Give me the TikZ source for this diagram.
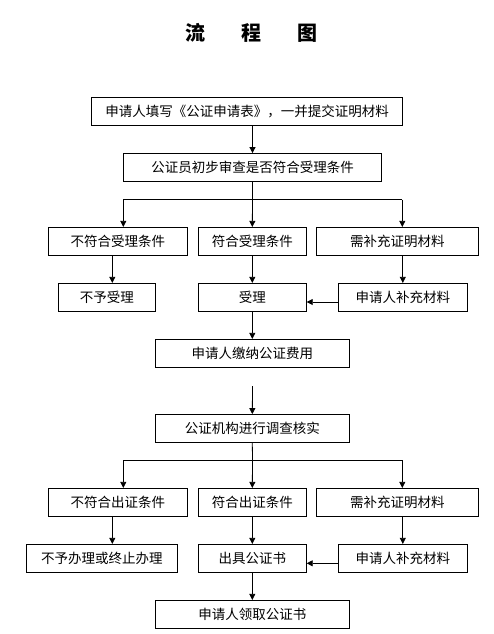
\documentclass[tikz,border=0pt]{standalone}
\usepackage{fontspec}
\usetikzlibrary{positioning,arrows.meta}
\newfontfamily\cjk{Noto Sans CJK SC}
\tikzset{
  stepbox/.style={draw,line width=0.8pt,minimum height=28pt,inner sep=0pt,
    font=\cjk\fontsize{13.5pt}{14pt}\selectfont},
  arr/.style={line width=0.8pt,-{Triangle[width=6pt,length=6pt]}},
  ln/.style={line width=0.8pt}
}
\begin{document}
\begin{tikzpicture}[x=1pt,y=-1pt]
  \useasboundingbox (0,0) rectangle (493,634);
  \node[font=\cjk\bfseries\fontsize{20pt}{22pt}\selectfont] (title) at (251,33)
    {流\hspace{36pt}程\hspace{36pt}图};

  % acceptance stage
  \node[stepbox,minimum width=311pt] (apply) at (247,111.5)
    {申请人填写《公证申请表》，一并提交证明材料};
  \node[stepbox,minimum width=258pt] (check) at (252.5,167.5)
    {公证员初步审查是否符合受理条件};
  \node[stepbox,minimum width=139pt] (notok) at (117.8,241.3) {不符合受理条件};
  \node[stepbox,minimum width=108pt] (ok) at (252.3,241.3) {符合受理条件};
  \node[stepbox,minimum width=162pt] (more) at (397.3,241.3) {需补充证明材料};
  \node[stepbox,minimum width=97pt] (refuse) at (106.8,297.3) {不予受理};
  \node[stepbox,minimum width=108pt] (accept) at (252.3,297.3) {受理};
  \node[stepbox,minimum width=129pt] (addmat) at (402.8,297.3) {申请人补充材料};
  \node[stepbox,minimum width=194pt] (fee) at (252.3,353.3) {申请人缴纳公证费用};

  % verification stage
  \node[stepbox,minimum width=194pt] (verify) at (252.3,428.5) {公证机构进行调查核实};
  \node[stepbox,minimum width=139pt] (notok2) at (117.8,502.3) {不符合出证条件};
  \node[stepbox,minimum width=108pt] (ok2) at (252.3,502.3) {符合出证条件};
  \node[stepbox,minimum width=162pt] (more2) at (397.3,502.3) {需补充证明材料};
  \node[stepbox,minimum width=151pt] (stop) at (101.8,558.3) {不予办理或终止办理};
  \node[stepbox,minimum width=108pt] (issue) at (252.3,558.3) {出具公证书};
  \node[stepbox,minimum width=129pt] (addmat2) at (402.8,558.3) {申请人补充材料};
  \node[stepbox,minimum width=194pt] (receive) at (252.3,614.3) {申请人领取公证书};

  % junctions
  \coordinate (splitA) at (252.5,199.5);
  \coordinate (splitAl) at (123.3,199.5);
  \coordinate (splitAr) at (402.3,199.5);
  \coordinate (downA) at (112.3,255.3);
  \coordinate (sideA) at (338.3,302);
  \coordinate (gap) at (252.5,386);
  \coordinate (splitB) at (252.5,460.3);
  \coordinate (splitBl) at (123.3,460.3);
  \coordinate (splitBr) at (402.3,460.3);
  \coordinate (downB) at (112.3,516.3);
  \coordinate (sideB) at (338.3,563.3);

  \draw[arr] (apply.south -| check.north) -- (check.north);
  \draw[ln] (check.south) -- (splitA);
  \draw[ln] (splitAl) -- (splitAr);
  \draw[arr] (splitAl) -- (splitAl |- notok.north);
  \draw[arr] (splitA) -- (ok.north);
  \draw[arr] (splitAr) -- (splitAr |- more.north);
  \draw[arr] (downA) -- (downA |- refuse.north);
  \draw[arr] (ok.south) -- (accept.north);
  \draw[arr] (more.south -| addmat.north) -- (addmat.north);
  \draw[arr] (sideA) -- (sideA -| accept.east);
  \draw[arr] (accept.south) -- (fee.north);
  \draw[arr] (gap) -- (verify.north);

  \draw[ln] (verify.south) -- (splitB);
  \draw[ln] (splitBl) -- (splitBr);
  \draw[arr] (splitBl) -- (splitBl |- notok2.north);
  \draw[arr] (splitB) -- (ok2.north);
  \draw[arr] (splitBr) -- (splitBr |- more2.north);
  \draw[arr] (downB) -- (downB |- stop.north);
  \draw[arr] (ok2.south) -- (issue.north);
  \draw[arr] (more2.south -| addmat2.north) -- (addmat2.north);
  \draw[arr] (sideB) -- (sideB -| issue.east);
  \draw[arr] (issue.south) -- (receive.north);
\end{tikzpicture}
\end{document}
